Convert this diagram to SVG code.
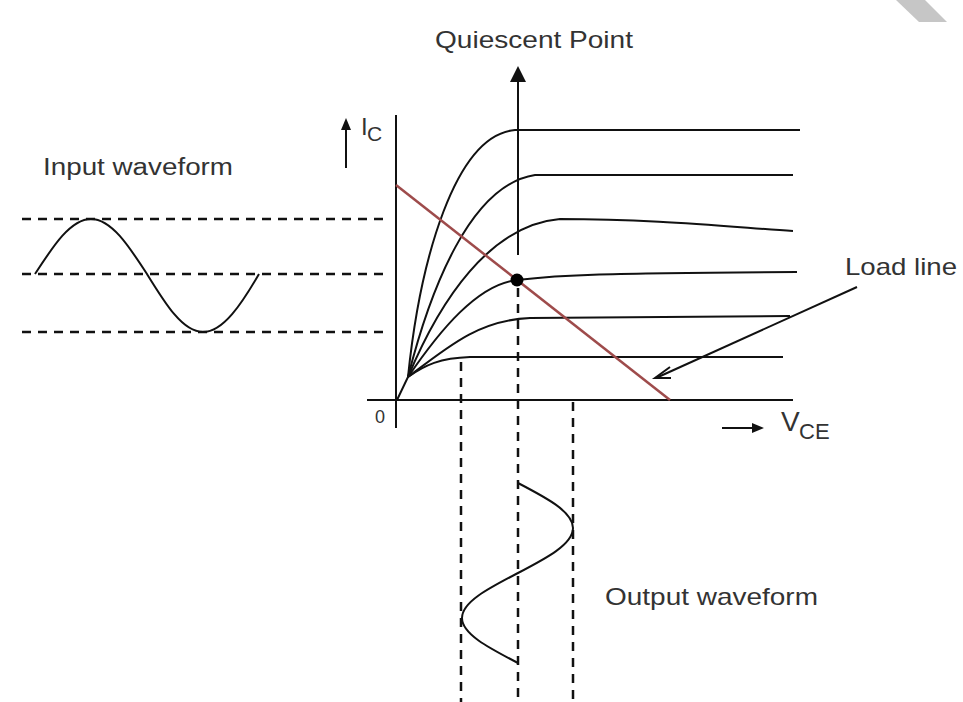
<svg xmlns="http://www.w3.org/2000/svg" width="963" height="702" viewBox="0 0 963 702">
<style>
.t{font-family:"Liberation Sans",Arial,sans-serif;fill:#333}
.ln{fill:none;stroke:#111;stroke-width:2}
.ds{fill:none;stroke:#111;stroke-width:2.5;stroke-dasharray:9 7}
.ax{fill:none;stroke:#111;stroke-width:2}
</style>
<rect width="963" height="702" fill="#fff"/>
<polygon points="896,0 925,0 947,22 919,22" fill="#c6c6c6"/>
<g id="axes">
<line class="ax" x1="396" y1="115" x2="396" y2="428"/>
<line class="ax" x1="367" y1="400" x2="793" y2="400"/>
<text class="t" x="375" y="423" font-size="18" fill="#555">0</text>
</g>
<g id="ic-label">
<line class="ax" x1="346" y1="168" x2="346" y2="128"/>
<polygon points="346,118 341,130 351,130" fill="#111"/>
<text class="t" x="361" y="135" font-size="24">I</text>
<text class="t" x="367" y="141" font-size="21">C</text>
</g>
<g id="vce-label">
<line class="ax" x1="722" y1="428" x2="755" y2="428"/>
<polygon points="764,428 752,423 752,433" fill="#111"/>
<text class="t" x="781" y="431" font-size="28">V</text>
<text class="t" x="799" y="439" font-size="22">CE</text>
</g>
<g id="curves">
<path class="ln" d="M397,400 L408,377 C420,260 455,135 515,130 L800,130"/>
<path class="ln" d="M408,377 C430,290 470,185 535,175 L793,175"/>
<path class="ln" d="M408,377 C440,300 490,225 560,219 C650,219 720,226 793,231"/>
<path class="ln" d="M408,377 C440,330 478,284 517,280 C560,275 600,273 797,272"/>
<path class="ln" d="M408,377 C450,345 480,320 530,318 L790,316"/>
<path class="ln" d="M408,377 C425,365 440,358 470,357 L783,357"/>
</g>
<g id="load-line">
<line x1="396" y1="185" x2="670" y2="400" stroke="#9e4b4b" stroke-width="2.5"/>
</g>
<g id="q-point">
<circle cx="517" cy="280" r="6.5" fill="#000"/>
</g>
<g id="quiescent-arrow">
<line class="ax" x1="518" y1="255" x2="518" y2="80"/>
<polygon points="518,66 510,82 526,82" fill="#111"/>
<text class="t" x="435" y="48" font-size="24" textLength="198" lengthAdjust="spacingAndGlyphs">Quiescent Point</text>
</g>
<g id="input-waveform">
<line class="ds" x1="22" y1="219" x2="385" y2="219"/>
<line class="ds" x1="22" y1="274" x2="385" y2="274"/>
<line class="ds" x1="22" y1="332" x2="385" y2="332"/>
<path class="ln" d="M35,274 C53.3,245.8 70.7,219 91,219 C111.3,219 128.7,245.8 147,274 C165.3,303.7 182.7,332 203,332 C223.3,332 241.7,303.7 259,274"/>
<text class="t" x="43" y="175" font-size="23" textLength="190" lengthAdjust="spacingAndGlyphs">Input waveform</text>
</g>
<g id="output-waveform">
<line class="ds" x1="461" y1="362" x2="461" y2="702"/>
<line class="ds" x1="518" y1="288" x2="518" y2="702"/>
<line class="ds" x1="573" y1="402" x2="573" y2="702"/>
<path class="ln" d="M518,483 C546.2,497.7 573,511.7 573,528 C573,544.3 546.2,558.3 518,573 C489.8,587.7 462,601.7 462,618 C462,634.3 489.8,648.3 518,663"/>
<text class="t" x="605" y="605" font-size="24" textLength="213" lengthAdjust="spacingAndGlyphs">Output waveform</text>
</g>
<g id="load-line-label">
<text class="t" x="845" y="275" font-size="24" textLength="112" lengthAdjust="spacingAndGlyphs">Load line</text>
</g>
<g id="connectors">
<line class="ax" x1="857" y1="287" x2="656" y2="378"/>
<polyline class="ax" points="670,367 655,378 671,378"/>
</g>
</svg>
